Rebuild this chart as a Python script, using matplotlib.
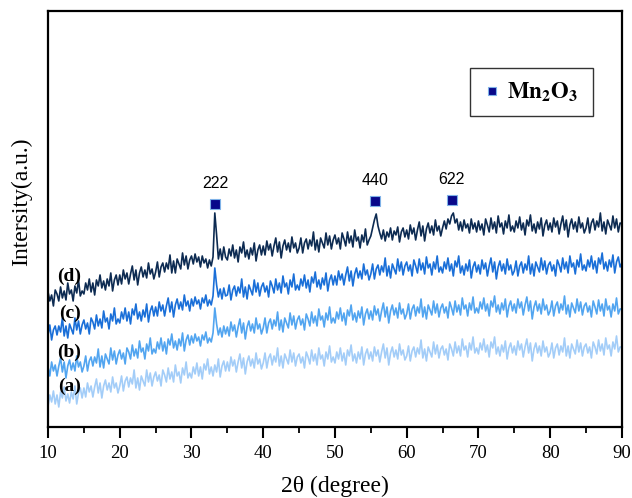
import numpy as np
import matplotlib
matplotlib.use("Agg")
import matplotlib.pyplot as plt

plt.rcParams['font.family'] = ['Liberation Serif', 'DejaVu Serif']
plt.rcParams['mathtext.fontset'] = 'stix'

# 2theta grid, 0.25 degree steps from 10 to 90
two_theta = np.arange(10, 90.001, 0.25)

# intensities (arbitrary units), one row = 5 degrees
sample_a = [21, 32, 25, 36, 23, 32, 20, 35, 29, 40, 26, 33, 24, 35, 28, 41, 23, 34, 39, 29,
            39, 30, 44, 35, 41, 30, 40, 48, 34, 44, 29, 41, 47, 37, 44, 35, 50, 39, 44, 34,
            41, 51, 36, 46, 50, 40, 49, 43, 57, 39, 49, 37, 51, 46, 41, 57, 45, 54, 41, 50,
            55, 46, 52, 41, 57, 52, 45, 59, 48, 55, 45, 62, 51, 55, 44, 59, 52, 65, 49, 54,
            49, 60, 53, 64, 51, 60, 48, 63, 57, 68, 53, 60, 51, 62, 55, 68, 50, 61, 66, 56,
            65, 56, 70, 61, 67, 55, 65, 73, 59, 69, 53, 65, 71, 61, 68, 59, 74, 63, 68, 58,
            64, 74, 59, 69, 73, 62, 71, 65, 79, 61, 71, 59, 73, 68, 63, 77, 65, 74, 61, 70,
            73, 64, 70, 59, 75, 70, 63, 77, 66, 73, 62, 79, 68, 72, 61, 75, 68, 81, 65, 70,
            64, 75, 68, 79, 66, 74, 62, 77, 71, 82, 66, 73, 64, 75, 68, 80, 62, 73, 78, 68,
            75, 66, 80, 71, 77, 65, 75, 83, 69, 79, 62, 74, 80, 70, 77, 68, 83, 72, 77, 67,
            71, 81, 66, 76, 80, 70, 79, 73, 87, 69, 78, 66, 80, 75, 70, 85, 73, 82, 69, 78,
            81, 72, 78, 67, 83, 78, 71, 85, 74, 81, 71, 88, 77, 81, 70, 84, 77, 90, 74, 79,
            73, 84, 77, 88, 75, 82, 70, 85, 79, 90, 73, 80, 71, 82, 75, 86, 68, 79, 84, 74,
            81, 72, 86, 77, 83, 70, 80, 88, 74, 84, 66, 78, 84, 74, 81, 71, 86, 75, 80, 70,
            74, 84, 69, 79, 83, 72, 81, 75, 89, 71, 81, 69, 83, 78, 73, 87, 75, 84, 71, 80,
            83, 74, 80, 69, 85, 80, 73, 87, 76, 83, 72, 89, 78, 82, 71, 85, 78, 91, 75, 80,
            80]

sample_b = [60, 51, 65, 56, 62, 51, 61, 69, 55, 65, 49, 61, 67, 57, 64, 56, 71, 60, 65, 55,
            61, 71, 56, 66, 70, 61, 70, 64, 78, 60, 71, 59, 73, 68, 63, 79, 67, 76, 63, 72,
            77, 68, 74, 63, 79, 75, 68, 82, 71, 78, 69, 86, 75, 79, 68, 83, 76, 89, 73, 78,
            74, 85, 78, 89, 76, 85, 73, 88, 82, 93, 79, 86, 77, 88, 81, 94, 76, 87, 92, 82,
            91, 84, 93, 86, 90, 81, 92, 87, 95, 84, 89, 85, 94, 119, 103, 92, 99, 90, 101, 93,
            100, 91, 105, 96, 102, 90, 100, 108, 94, 104, 88, 100, 106, 96, 103, 94, 109, 98, 103, 93,
            99, 109, 94, 104, 108, 98, 107, 101, 115, 97, 107, 95, 109, 104, 99, 114, 102, 111, 98, 107,
            111, 102, 108, 97, 113, 108, 101, 115, 104, 111, 101, 118, 107, 111, 100, 114, 107, 120, 104, 109,
            104, 115, 108, 119, 106, 114, 102, 117, 111, 122, 107, 114, 105, 116, 109, 120, 102, 113, 118, 108,
            116, 107, 121, 112, 118, 106, 116, 124, 110, 120, 104, 116, 122, 112, 119, 109, 124, 113, 118, 108,
            113, 123, 108, 118, 122, 111, 120, 114, 128, 110, 120, 108, 122, 117, 112, 126, 114, 123, 110, 119,
            123, 114, 120, 109, 125, 119, 112, 126, 115, 122, 112, 129, 118, 122, 111, 124, 117, 130, 114, 119,
            114, 125, 118, 129, 116, 123, 111, 126, 120, 131, 115, 122, 113, 124, 117, 128, 110, 121, 126, 116,
            123, 114, 128, 119, 125, 112, 122, 130, 116, 126, 108, 120, 126, 116, 123, 113, 128, 117, 122, 112,
            116, 126, 111, 121, 125, 114, 123, 117, 131, 113, 122, 110, 124, 119, 114, 128, 116, 125, 112, 121,
            124, 115, 121, 110, 126, 120, 113, 127, 116, 123, 111, 128, 117, 121, 110, 123, 116, 129, 113, 118,
            118]

sample_c = [92, 102, 87, 97, 101, 92, 101, 95, 109, 91, 101, 89, 103, 98, 93, 109, 97, 106, 93, 102,
            107, 98, 104, 93, 109, 105, 98, 112, 101, 108, 99, 116, 105, 109, 98, 113, 106, 119, 103, 108,
            104, 115, 108, 119, 106, 115, 103, 118, 112, 123, 108, 115, 106, 117, 110, 123, 105, 116, 121, 111,
            120, 111, 125, 116, 122, 111, 121, 129, 115, 125, 110, 122, 128, 118, 125, 117, 132, 121, 126, 116,
            128, 121, 130, 123, 127, 118, 129, 124, 132, 121, 127, 122, 131, 159, 142, 130, 138, 128, 139, 131,
            132, 142, 127, 137, 141, 131, 140, 134, 148, 130, 140, 128, 142, 137, 132, 147, 135, 144, 131, 140,
            144, 135, 141, 130, 146, 141, 134, 148, 137, 144, 134, 151, 140, 144, 133, 147, 140, 153, 137, 142,
            137, 148, 141, 152, 139, 147, 135, 150, 144, 155, 140, 147, 138, 149, 142, 154, 136, 147, 152, 142,
            151, 142, 156, 147, 153, 142, 152, 160, 146, 156, 141, 153, 159, 149, 156, 148, 163, 152, 157, 147,
            153, 163, 148, 158, 162, 152, 161, 155, 169, 151, 161, 149, 163, 158, 153, 168, 156, 165, 152, 161,
            165, 156, 162, 151, 167, 161, 154, 168, 157, 164, 153, 170, 159, 163, 152, 165, 158, 171, 155, 160,
            154, 165, 158, 169, 156, 163, 151, 166, 160, 171, 154, 161, 152, 163, 156, 167, 149, 160, 165, 155,
            162, 153, 167, 158, 164, 151, 161, 169, 155, 165, 148, 160, 166, 156, 163, 153, 168, 157, 162, 152,
            156, 166, 151, 161, 165, 154, 163, 157, 171, 153, 163, 151, 165, 160, 155, 169, 157, 166, 153, 162,
            165, 156, 162, 151, 167, 162, 155, 169, 158, 165, 154, 171, 160, 164, 153, 167, 160, 173, 157, 162,
            156, 167, 160, 171, 158, 166, 154, 169, 163, 174, 158, 165, 156, 167, 160, 172, 154, 165, 170, 160,
            164]

sample_d = [135, 126, 132, 121, 137, 133, 126, 140, 129, 136, 127, 144, 133, 137, 126, 141, 134, 147, 131, 136,
            133, 144, 137, 148, 135, 144, 132, 147, 141, 152, 139, 146, 137, 148, 141, 154, 136, 147, 152, 142,
            152, 143, 157, 148, 154, 143, 153, 161, 147, 157, 142, 154, 160, 150, 157, 149, 164, 153, 158, 148,
            155, 165, 150, 160, 164, 155, 164, 158, 172, 154, 166, 154, 168, 163, 158, 174, 162, 171, 158, 167,
            171, 163, 173, 165, 170, 160, 171, 164, 168, 159, 167, 161, 170, 214, 192, 168, 178, 167, 180, 170,
            167, 178, 171, 182, 169, 177, 165, 180, 174, 185, 170, 177, 168, 179, 172, 184, 166, 177, 182, 172,
            181, 172, 186, 177, 183, 171, 181, 189, 175, 185, 169, 181, 187, 177, 184, 175, 190, 179, 184, 174,
            179, 189, 174, 184, 188, 178, 187, 181, 195, 177, 187, 175, 189, 184, 179, 194, 182, 191, 178, 187,
            192, 183, 189, 178, 194, 188, 181, 195, 184, 191, 180, 197, 186, 190, 179, 192, 185, 198, 182, 187,
            191, 199, 207, 213, 201, 194, 188, 197, 186, 195, 190, 199, 187, 196, 192, 200, 185, 195, 199, 190,
            197, 188, 202, 193, 199, 187, 197, 205, 191, 201, 186, 198, 204, 194, 201, 192, 207, 196, 201, 191,
            199, 206, 198, 208, 203, 211, 214, 204, 208, 197, 205, 196, 207, 199, 203, 194, 208, 198, 204, 195,
            206, 197, 203, 192, 208, 202, 195, 209, 198, 205, 194, 211, 200, 204, 193, 206, 199, 212, 196, 201,
            195, 206, 199, 210, 197, 204, 192, 207, 201, 212, 196, 203, 194, 205, 198, 209, 191, 202, 207, 197,
            204, 195, 209, 200, 206, 193, 203, 211, 197, 207, 190, 202, 208, 198, 205, 195, 210, 199, 204, 194,
            199, 209, 194, 204, 208, 197, 206, 200, 214, 196, 205, 193, 207, 202, 197, 211, 199, 208, 195, 204,
            203]

series = [sample_a, sample_b, sample_c, sample_d]
series_labels = ['(a)', '(b)', '(c)', '(d)']
colors = ['#a3cdf8', '#52a5f0', '#1a6fd8', '#0d2b52']
label_pos = [(13.0, 41), (13.0, 75), (13.0, 114), (13.0, 151)]

# Mn2O3 reflections
peak_hkl = ['222', '440', '622']
peak_x = [33.3, 55.6, 66.3]
peak_y = [223, 226, 227]

fig = plt.figure(figsize=(6.32, 4.98), dpi=100)
ax = fig.add_axes([0.076, 0.1426, 0.908, 0.8354])

for y, c in zip(series, colors):
    ax.plot(two_theta, y, color=c, lw=1.2)

for lab, (lx, ly) in zip(series_labels, label_pos):
    ax.text(lx, ly, lab, fontsize=14, fontweight='bold', ha='center', va='center')

mk, = ax.plot(peak_x, peak_y, ls='none', marker='s', ms=6.5,
              mfc='#08088a', mec='#7fb2e8', mew=0.8)
for hkl, px, py in zip(peak_hkl, peak_x, peak_y):
    ax.text(px, py + 13, hkl, fontsize=11.5, family='Liberation Sans',
            ha='center', va='bottom')

leg = ax.legend([mk], [r'$\mathbf{Mn_2O_3}$ '], loc='upper right',
                bbox_to_anchor=(0.949, 0.863), borderaxespad=0,
                fancybox=False, edgecolor='black', fontsize=16.5,
                handlelength=0.8, handletextpad=0.25, borderpad=0.55,
                markerscale=0.9)
leg.get_frame().set_linewidth(1.0)

ax.set_xlim(10, 90)
ax.set_ylim(0, 416)
ax.set_xticks(range(10, 91, 10))
ax.set_xticks(range(15, 90, 10), minor=True)
ax.set_yticks([])
ax.tick_params(axis='x', which='major', direction='out', length=8, width=1.5,
               labelsize=13.5, pad=5)
ax.tick_params(axis='x', which='minor', direction='out', length=4, width=1.3)
for s in ax.spines.values():
    s.set_linewidth(1.6)

ax.set_xlabel('2θ (degree)', fontsize=17, labelpad=10)
ax.set_ylabel('Intersity(a.u.)', fontsize=17)
ax.yaxis.set_label_coords(-0.028, 0.541)

fig.savefig('out.png', dpi=100)
